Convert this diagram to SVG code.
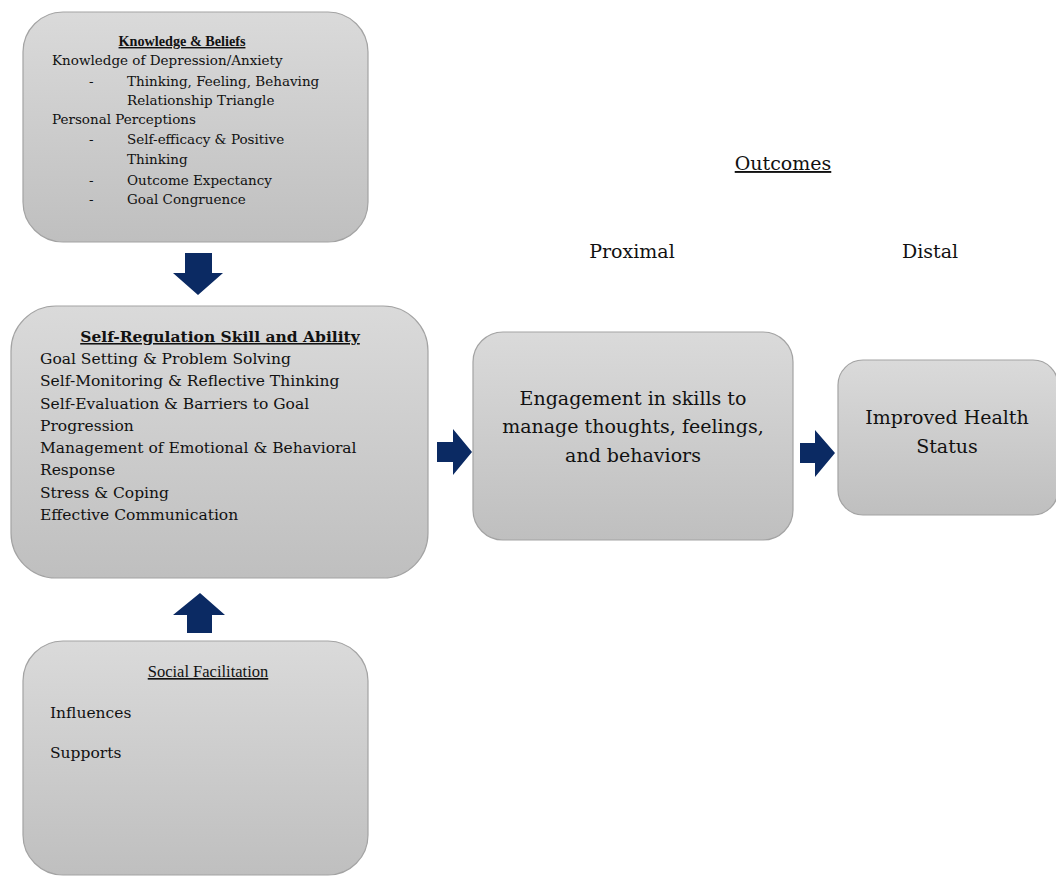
<svg xmlns="http://www.w3.org/2000/svg" width="1056" height="876" viewBox="0 0 1056 876">
<defs>
<linearGradient id="g" x1="0" y1="0" x2="0" y2="1">
<stop offset="0" stop-color="#dadada"/>
<stop offset="1" stop-color="#bfbfbf"/>
</linearGradient>
<style>
.box{fill:url(#g);stroke:#a3a3a3;stroke-width:1.2}
text{font-family:"DejaVu Serif","Liberation Serif",serif;fill:#111}
.lib{font-family:"Liberation Serif",serif}
.t1{font-size:13.5px}
.t2{font-size:15.5px}
.t3{font-size:19px}
.b{font-weight:bold}
.u{text-decoration:underline}
.c{text-anchor:middle}
.arr{fill:#0b2a63}
</style>
</defs>
<rect width="1056" height="876" fill="#ffffff"/>
<g id="knowledge">
<rect class="box" x="23" y="12" width="345" height="230" rx="40"/>
<text class="lib b u c" style="font-size:14.2px" x="182" y="46">Knowledge &amp; Beliefs</text>
<text class="t1" x="52" y="65">Knowledge of Depression/Anxiety</text>
<text class="t1" x="89" y="86">-</text>
<text class="t1" x="127" y="86">Thinking, Feeling, Behaving</text>
<text class="t1" x="127" y="105">Relationship Triangle</text>
<text class="t1" x="52" y="124">Personal Perceptions</text>
<text class="t1" x="89" y="144">-</text>
<text class="t1" x="127" y="144">Self-efficacy &amp; Positive</text>
<text class="t1" x="127" y="164">Thinking</text>
<text class="t1" x="89" y="185">-</text>
<text class="t1" x="127" y="185">Outcome Expectancy</text>
<text class="t1" x="89" y="204">-</text>
<text class="t1" x="127" y="204">Goal Congruence</text>
</g>
<g id="selfreg">
<rect class="box" x="11" y="306" width="417" height="272" rx="45"/>
<text class="t2 b u c" x="220" y="342">Self-Regulation Skill and Ability</text>
<text class="t2" x="40" y="364">Goal Setting &amp; Problem Solving</text>
<text class="t2" x="40" y="386">Self-Monitoring &amp; Reflective Thinking</text>
<text class="t2" x="40" y="409">Self-Evaluation &amp; Barriers to Goal</text>
<text class="t2" x="40" y="431">Progression</text>
<text class="t2" x="40" y="453">Management of Emotional &amp; Behavioral</text>
<text class="t2" x="40" y="475">Response</text>
<text class="t2" x="40" y="498">Stress &amp; Coping</text>
<text class="t2" x="40" y="520">Effective Communication</text>
</g>
<g id="social">
<rect class="box" x="23" y="641" width="345" height="234" rx="40"/>
<text class="lib u c" style="font-size:16.5px" x="208" y="677">Social Facilitation</text>
<text class="t2" x="50" y="718">Influences</text>
<text class="t2" x="50" y="758">Supports</text>
</g>
<g id="engagement">
<rect class="box" x="473" y="332" width="320" height="208" rx="30"/>
<text class="t3 c" x="633" y="405">Engagement in skills to</text>
<text class="t3 c" x="633" y="433">manage thoughts, feelings,</text>
<text class="t3 c" x="633" y="462">and behaviors</text>
</g>
<g id="health">
<rect class="box" x="838" y="360" width="220" height="155" rx="25"/>
<text class="t3 c" x="947" y="424">Improved Health</text>
<text class="t3 c" x="947" y="453">Status</text>
</g>
<g id="labels">
<text class="t3 u c" x="783" y="170">Outcomes</text>
<text class="t3 c" x="632" y="258">Proximal</text>
<text class="t3 c" x="930" y="258">Distal</text>
</g>
<g id="connectors">
<polygon class="arr" points="185,253 212,253 212,273 223,273 198,295 173,273 185,273"/>
<polygon class="arr" points="437,442 453,442 453,429 472,452 453,475 453,462 437,462"/>
<polygon class="arr" points="800,443 815,443 815,430 835,453 815,477 815,463 800,463"/>
<polygon class="arr" points="200,593 225,615 212,615 212,633 187,633 187,615 173,615"/>
</g>
</svg>
